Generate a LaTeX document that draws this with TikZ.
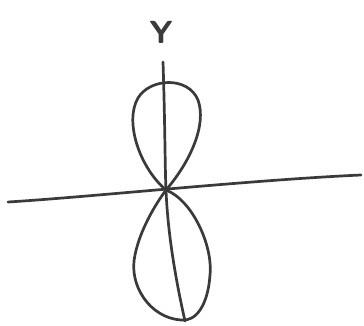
\documentclass[tikz,border=0pt]{standalone}
\usepackage{tikz}
\definecolor{ink}{HTML}{3A3A3A}
\tikzset{
  sketch/.style={draw=ink, line width=2.7pt, line cap=round, line join=round},
  lbl/.style={text=ink, font=\sffamily\bfseries\fontsize{32}{32}\selectfont, inner sep=0pt}
}
\begin{document}
\begin{tikzpicture}[x=1pt,y=-1pt]
\useasboundingbox[fill=white] (0,0) rectangle (364,326);
\coordinate (O) at (166,190);
\coordinate (L) at (8,202);
\coordinate (R) at (361,175);
\coordinate (T) at (163,62);
\coordinate (B) at (185,321);
\node[lbl] (Y) at (161,32) {Y};
% axes
\draw[sketch] (L) .. controls (90,197) and (250,180) .. (R);
\draw[sketch] (T) .. controls (165,120) and (165,170) .. (O) .. controls (168,240) and (178,290) .. (B);
% upper lobe
\draw[sketch] (O) .. controls (140,168) and (124,122) .. (138,98)
  .. controls (150,78) and (188,76) .. (198,100)
  .. controls (207,125) and (190,162) .. (O);
% lower lobe
\draw[sketch] (O) .. controls (192,200) and (213,245) .. (210,275)
  .. controls (208,305) and (196,322) .. (181,320)
  .. controls (150,318) and (128,285) .. (135,255)
  .. controls (140,230) and (155,205) .. (O);
\end{tikzpicture}
\end{document}
